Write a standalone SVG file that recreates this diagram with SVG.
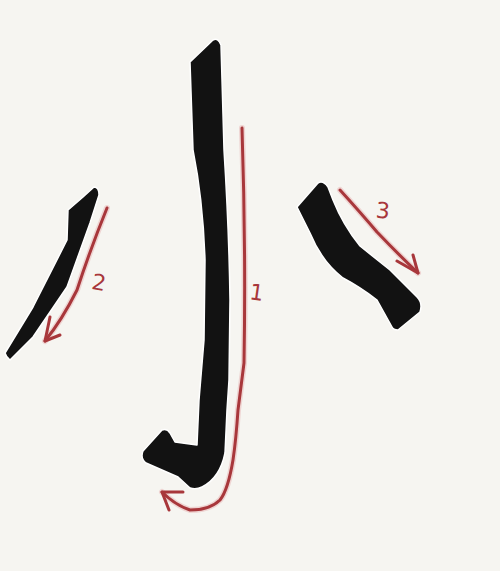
<svg xmlns="http://www.w3.org/2000/svg" width="500" height="571" viewBox="0 0 500 571">
<style>
.ink{fill:#121212;stroke:#ffffff;stroke-width:1.5;stroke-linejoin:round}
.arw{fill:none;stroke:#a8373b;stroke-width:3;stroke-linecap:round;stroke-linejoin:round}
.glow{fill:none;stroke:#e8b4b4;stroke-opacity:0.5;stroke-width:6;stroke-linecap:round;stroke-linejoin:round}
.lbl{font-family:"DejaVu Sans",sans-serif;font-size:22px;fill:#a8373b}
</style>
<rect width="500" height="571" fill="#f6f5f1"/>
<g id="stroke1">
<path class="ink" d="M190,62 L213,40 Q218,37 221,45 L224,150 Q229,230 230,300 L229,380 L227,410 L225,453 Q220,478 202,487 Q196,490 190,488 L178,477 L146,463 Q140,458 143,451 L162,430 Q167,428 170,433 L175,442 L197,445 L199,400 L204,340 L205,260 Q203,200 193,150 Z"/>
</g>
<g id="stroke2">
<path class="ink" d="M83,197 L94,187 Q99,187 99,195 L90,223 L67,287 L33,337 L10,360 Q6,357 5,353 L33,307 L67,240 L68,210 Z"/>
</g>
<g id="stroke3">
<path class="ink" d="M297,207 L318,183 Q323,180 328,187 L333,200 Q343,225 360,246 L390,270 L417,297 Q423,303 420,312 L398,330 Q393,330 392,327 L377,300 Q360,287 343,278 Q322,262 310,233 Z"/>
</g>
<g id="connectors">
<path class="glow" d="M242,128 Q246,250 244,363 L238,410 Q236,440 233,460 Q228,490 220,500 Q210,510 190,510 Q175,505 162,492"/>
<path class="arw" d="M242,128 Q246,250 244,363 L238,410 Q236,440 233,460 Q228,490 220,500 Q210,510 190,510 Q175,505 162,492"/>
<path class="arw" d="M183,492 L162,492 L169,510"/>
<path class="glow" d="M107,208 Q90,250 77,290 Q62,320 45,341"/>
<path class="arw" d="M107,208 Q90,250 77,290 Q62,320 45,341"/>
<path class="arw" d="M50,317 L45,341 L60,335"/>
<path class="glow" d="M340,190 Q360,212 377,232 Q398,254 418,273"/>
<path class="arw" d="M340,190 Q360,212 377,232 Q398,254 418,273"/>
<path class="arw" d="M397,261 L418,273 L413,255"/>
</g>
<g id="labels">
<text class="lbl" x="250" y="300" transform="rotate(8 257 290)">1</text>
<text class="lbl" x="92" y="290" transform="rotate(10 98 282)">2</text>
<text class="lbl" x="376" y="218" transform="rotate(5 382 210)">3</text>
</g>
</svg>
